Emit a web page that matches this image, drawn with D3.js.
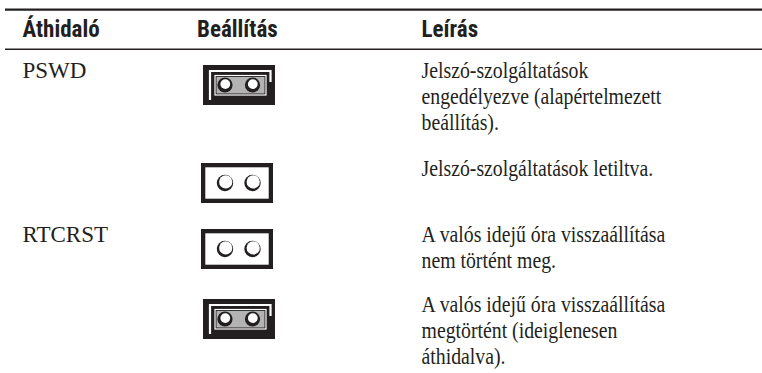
<!DOCTYPE html>
<html>
<head>
<meta charset="utf-8">
<script src="https://cdn.jsdelivr.net/npm/d3@7"></script>
<style>
  html, body { margin: 0; padding: 0; background: #ffffff; }
  svg { display: block; }
</style>
</head>
<body>
<svg id="chart" width="762" height="373"></svg>
<script>
// ---- data ----
const headers = ["Áthidaló", "Beállítás", "Leírás"];
const jumpers = ["PSWD", "", "RTCRST", ""];
const jumpered = [true, false, false, true];
const descriptions = [
  ["Jelszó-szolgáltatások", "engedélyezve (alapértelmezett", "beállítás)."],
  ["Jelszó-szolgáltatások letiltva."],
  ["A valós idejű óra visszaállítása", "nem történt meg."],
  ["A valós idejű óra visszaállítása", "megtörtént (ideiglenesen", "áthidalva)."]
];

// ---- layout ----
const W = 762, H = 373;
const ink = "#231f20";
const rowTops = [64, 162, 228, 298];
const lineH = 26;
const bodySquash = 0.86;
const colX = d3.scaleOrdinal().domain(headers).range([22.5, 197, 421.5]);
const rowIdx = d3.range(jumpers.length);

const svg = d3.select("#chart");

// rules
svg.append("line").attr("x1", 5).attr("x2", W).attr("y1", 9.6).attr("y2", 9.6)
  .attr("stroke", ink).attr("stroke-width", 2.3);
svg.append("line").attr("x1", 5).attr("x2", W).attr("y1", 49.2).attr("y2", 49.2)
  .attr("stroke", ink).attr("stroke-width", 1.5);

// headers
svg.selectAll("text.hdr").data(headers).join("text")
  .attr("class", "hdr")
  .attr("x", d => colX(d))
  .attr("y", 37.3)
  .attr("fill", ink)
  .style("font-family", "'Roboto Condensed', 'DejaVu Sans Condensed', sans-serif")
  .style("font-weight", "bold")
  .style("font-size", "23px")
  .text(d => d);

const serif = "'Liberation Serif', 'Times New Roman', serif";

// jumper names
svg.selectAll("text.jmp").data(rowIdx.filter(i => jumpers[i])).join("text")
  .attr("class", "jmp")
  .attr("x", colX(headers[0]))
  .attr("y", i => rowTops[i] + 14)
  .attr("fill", ink)
  .style("font-family", serif)
  .style("font-size", "23px")
  .text(i => jumpers[i]);

// descriptions
const desc = svg.selectAll("g.desc").data(rowIdx).join("g")
  .attr("class", "desc")
  .attr("transform", i => `translate(${colX(headers[2])},${rowTops[i] + 14}) scale(${bodySquash},1)`);
desc.selectAll("text").data(i => descriptions[i]).join("text")
  .attr("x", 0)
  .attr("y", (d, j) => j * lineH)
  .attr("fill", ink)
  .style("font-family", serif)
  .style("font-size", "23px")
  .text(d => d);

// jumper icons
const pinX = [225, 252.5];
const icons = svg.selectAll("g.icon").data(rowIdx).join("g")
  .attr("class", "icon")
  .attr("transform", i => `translate(0,${rowTops[i] + 1})`);

icons.each(function(i) {
  const g = d3.select(this);
  const cy = 20;
  if (jumpered[i]) {
    const x0 = 203;
    g.append("rect").attr("x", x0).attr("y", 0).attr("width", 72).attr("height", 40).attr("fill", ink);
    g.append("path")
      .attr("d", `M${x0 + 7},${35} V${6} H${x0 + 67.5} V${17}`)
      .attr("fill", "none").attr("stroke", "#ffffff").attr("stroke-width", 2.2);
    g.append("rect").attr("x", x0 + 12).attr("y", 10.5).attr("width", 51).attr("height", 19.5)
      .attr("fill", "none").attr("stroke", "#ffffff").attr("stroke-width", 1.2);
    g.append("rect").attr("x", x0 + 13.5).attr("y", 12).attr("width", 48).attr("height", 16.5)
      .attr("fill", "#b3b3b3");
    pinX.forEach(px => {
      g.append("circle").attr("cx", px).attr("cy", cy).attr("r", 7.6).attr("fill", ink);
      g.append("circle").attr("cx", px + 0.3).attr("cy", cy - 0.9).attr("r", 4.9).attr("fill", "#ffffff");
    });
  } else {
    const x0 = 201;
    g.append("rect").attr("x", x0 + 2.15).attr("y", 2.15).attr("width", 72 - 4.3).attr("height", 40 - 4.3)
      .attr("fill", "#ffffff").attr("stroke", ink).attr("stroke-width", 4.3);
    pinX.forEach(px => {
      g.append("circle").attr("cx", px).attr("cy", cy).attr("r", 8.2).attr("fill", ink);
      g.append("circle").attr("cx", px + 0.7).attr("cy", cy - 1.1).attr("r", 6.6).attr("fill", "#ffffff");
    });
  }
});
</script>
</body>
</html>
